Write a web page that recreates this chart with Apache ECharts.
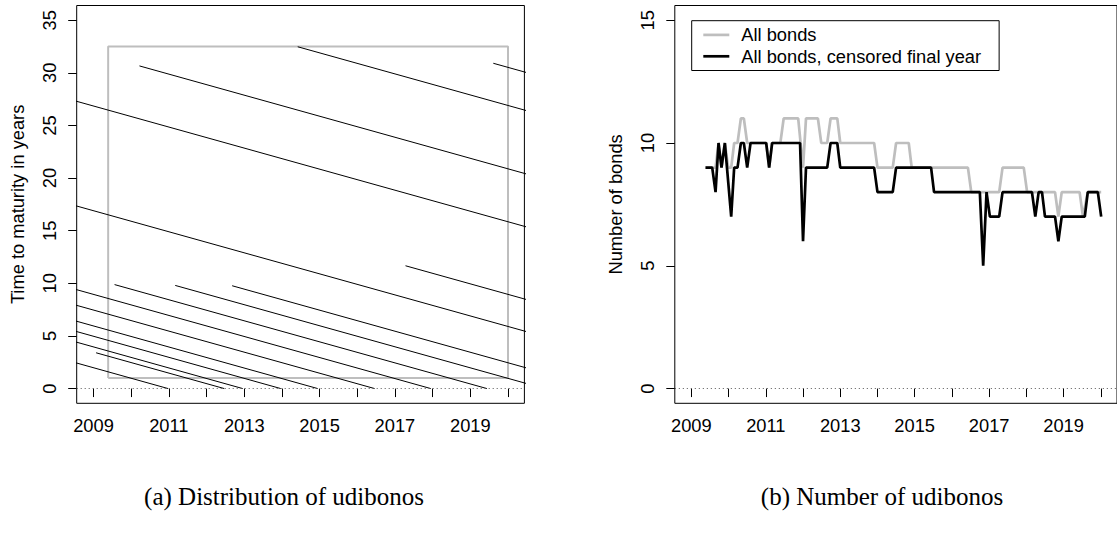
<!DOCTYPE html>
<html><head><meta charset="utf-8">
<script src="https://cdn.jsdelivr.net/npm/echarts@6/dist/echarts.min.js"></script>
<style>html,body{margin:0;padding:0;background:#fff}#c{width:1117px;height:533px}</style>
</head><body><div id="c"></div>
<script>
// ---------------- data ----------------
const yearTicks = [2009, 2010, 2011, 2012, 2013, 2014, 2015, 2016, 2017, 2018, 2019, 2020];
const yearLabels = [2009, 2011, 2013, 2015, 2017, 2019];
const maturityTicks = [0, 5, 10, 15, 20, 25, 30, 35];
const countTicks = [0, 5, 10, 15];

// udibonos: maturity date and issue date (null = issued before the plotted window)
const bondMaturity = [2010.98, 2012.47, 2012.96, 2013.97, 2014.95, 2016.46, 2017.95, 2019.44, 2020.97, 2022.45, 2025.90, 2028.95, 2035.85, 2040.88, 2046.90, 2050.52];
const bondIssue    = [null,    2009.07, null,    null,    null,    null,    null,    2009.56, 2011.17, 2012.68, null,    2017.28, null,    2010.22, 2014.42, 2019.61];

// sample window (grey rectangle)
const sampleYears = [2009.39, 2020.0];
const sampleMaturities = [1, 32.5];

// number of bonds
const allBonds = [[2009.38,9],[2009.56,9],[2009.65,9],[2009.73,10],[2009.81,9],[2009.90,10],[2009.99,9],[2010.07,9],[2010.15,10],[2010.24,10],[2010.33,11],[2010.41,11],[2010.50,10],[2011.01,10],[2011.09,9],[2011.17,10],[2011.39,10],[2011.48,11],[2011.87,11],[2012.00,9],[2012.08,11],[2012.40,11],[2012.49,10],[2012.65,10],[2012.74,11],[2012.92,11],[2013.00,10],[2013.91,10],[2014.00,9],[2014.41,9],[2014.50,10],[2014.84,10],[2014.92,9],[2016.43,9],[2016.52,8],[2017.27,8],[2017.36,9],[2017.93,9],[2018.02,8],[2018.77,8],[2018.86,7],[2018.95,8],[2019.43,8],[2019.52,7],[2019.65,8],[2020.01,8]];
const censoredBonds = [[2009.38,9],[2009.56,9],[2009.65,8],[2009.73,10],[2009.81,9],[2009.90,10],[2010.07,7],[2010.15,9],[2010.24,9],[2010.33,10],[2010.41,10],[2010.50,9],[2010.59,10],[2011.01,10],[2011.09,9],[2011.17,10],[2011.92,10],[2012.00,6],[2012.08,9],[2012.65,9],[2012.74,10],[2012.92,10],[2013.00,9],[2013.91,9],[2014.00,8],[2014.41,8],[2014.50,9],[2015.44,9],[2015.52,8],[2016.75,8],[2016.84,5],[2016.93,8],[2017.02,7],[2017.27,7],[2017.36,8],[2018.15,8],[2018.24,7],[2018.33,8],[2018.42,8],[2018.50,7],[2018.77,7],[2018.86,6],[2018.95,7],[2019.57,7],[2019.65,8],[2019.92,8],[2020.01,7]];

const seriesNames = ['All bonds', 'All bonds, censored final year'];
const axisTitles = ['Time to maturity in years', 'Number of bonds'];
const captions = ['(a) Distribution of udibonos', '(b) Number of udibonos'];

// ---------------- layout / styles ----------------
const X_MIN = 2008.555, X_MAX = 2020.435;
const FONT = 'Liberation Sans, Arial, Helvetica, sans-serif';
const FS = 18.3;
const GREY = '#bebebe';

function xAxisCfg(gi) {
  return {
    type: 'value', gridIndex: gi, min: X_MIN, max: X_MAX,
    axisLine: { show: false },
    splitLine: { show: false },
    axisTick: { show: true, length: 8.5, customValues: yearTicks, lineStyle: { color: '#000', width: 1 } },
    axisLabel: { show: true, customValues: yearLabels, margin: 13, fontSize: FS, fontFamily: FONT, color: '#000',
      formatter: v => String(Math.round(v)) }
  };
}
function yAxisCfg(gi, min, max, ticks, name) {
  return {
    type: 'value', gridIndex: gi, min: min, max: max,
    name: name, nameLocation: 'middle', nameRotate: 90, nameGap: 50,
    nameTextStyle: { fontSize: FS, fontFamily: FONT, color: '#000' },
    axisLine: { show: false },
    splitLine: { show: false },
    axisTick: { show: true, length: 8.5, customValues: ticks, lineStyle: { color: '#000', width: 1 } },
    axisLabel: { show: true, customValues: ticks, rotate: 90, margin: 18, fontSize: FS, fontFamily: FONT, color: '#000',
      formatter: v => String(Math.round(v)) }
  };
}

const zeroLine = {
  silent: true, symbol: 'none', label: { show: false },
  lineStyle: { color: '#555', type: [1, 3], width: 1 },
  data: [{ yAxis: 0 }]
};

const series = [];
// grey sample window
series.push({
  type: 'line', xAxisIndex: 0, yAxisIndex: 0, symbol: 'none', silent: true,
  lineStyle: { color: GREY, width: 2 },
  data: [[sampleYears[0], sampleMaturities[0]], [sampleYears[1], sampleMaturities[0]],
         [sampleYears[1], sampleMaturities[1]], [sampleYears[0], sampleMaturities[1]],
         [sampleYears[0], sampleMaturities[0]]],
  markLine: zeroLine
});
// bond lines: time to maturity = maturity - date
bondMaturity.forEach((m, i) => {
  const t0 = bondIssue[i] === null ? X_MIN - 1 : bondIssue[i];
  const t1 = Math.min(m, X_MAX + 1);
  series.push({
    type: 'line', xAxisIndex: 0, yAxisIndex: 0, symbol: 'none', silent: true, clip: true,
    lineStyle: { color: '#000', width: 1 },
    data: [[t0, m - t0], [t1, m - t1]]
  });
});
// number of bonds
series.push({
  name: seriesNames[0], type: 'line', xAxisIndex: 1, yAxisIndex: 1, symbol: 'none', clip: true,
  lineStyle: { color: GREY, width: 2.7 }, itemStyle: { color: GREY },
  data: allBonds, markLine: zeroLine
});
series.push({
  name: seriesNames[1], type: 'line', xAxisIndex: 1, yAxisIndex: 1, symbol: 'none', clip: true,
  lineStyle: { color: '#000', width: 2.7 }, itemStyle: { color: '#000' },
  data: censoredBonds
});

const chart = echarts.init(document.getElementById('c'), null, { renderer: 'svg' });
chart.setOption({
  animation: false,
  backgroundColor: '#fff',
  grid: [
    { left: 76.7, top: 5.5, width: 447.7, height: 397.8, show: true, borderColor: '#000', borderWidth: 1, backgroundColor: 'transparent' },
    { left: 674.8, top: 5.5, width: 448, height: 397.8, show: true, borderColor: '#000', borderWidth: 1, backgroundColor: 'transparent' }
  ],
  xAxis: [xAxisCfg(0), xAxisCfg(1)],
  yAxis: [yAxisCfg(0, -1.4, 36.4, maturityTicks, axisTitles[0]), yAxisCfg(1, -0.6, 15.6, countTicks, axisTitles[1])],
  legend: {
    left: 691.7, top: 20.7, orient: 'vertical', data: seriesNames,
    borderColor: '#000', borderWidth: 1, borderRadius: 0, padding: [5, 18, 5, 11.6],
    icon: 'rect', itemWidth: 26, itemHeight: 2.7, itemGap: 3, selectedMode: false,
    textStyle: { fontSize: FS, lineHeight: 18.4, fontFamily: FONT, color: '#000', padding: [0, 0, 0, 7] }
  },
  graphic: [
    { type: 'text', x: 284, y: 496, style: { text: captions[0], textAlign: 'center', textVerticalAlign: 'middle', font: '25px "Liberation Serif", "DejaVu Serif", serif', fill: '#000' } },
    { type: 'text', x: 882, y: 496, style: { text: captions[1], textAlign: 'center', textVerticalAlign: 'middle', font: '25px "Liberation Serif", "DejaVu Serif", serif', fill: '#000' } }
  ],
  series: series
});
</script></body></html>
